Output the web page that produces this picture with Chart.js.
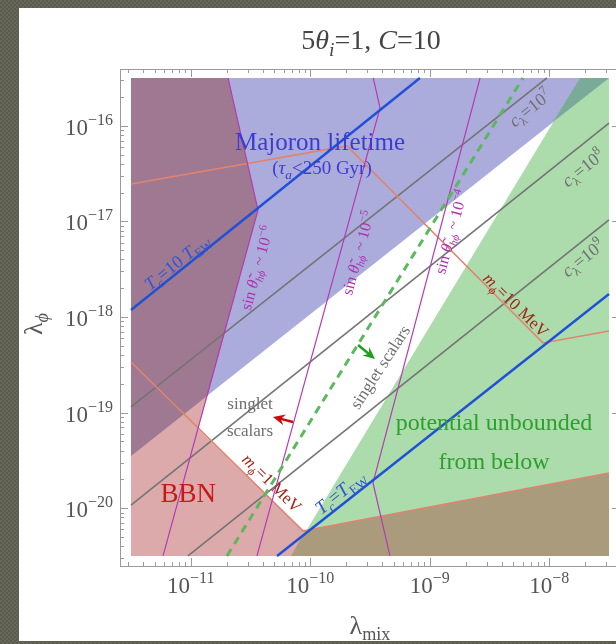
<!DOCTYPE html>
<html>
<head>
<meta charset="utf-8">
<script src="https://cdn.jsdelivr.net/npm/chart.js@4.4.1/dist/chart.umd.min.js"></script>
<style>
html, body { margin:0; padding:0; overflow:hidden; }
body { width:616px; height:644px; position:relative; background-color:#5e5e51;
  background-image:repeating-conic-gradient(#5a5a4d 0 25%, #67675a 0 50%); background-size:4px 4px; }
#panel { position:absolute; left:19px; top:8px; width:597px; height:633px; background:#fff; }
#wrap { position:absolute; left:0; top:0; width:636px; height:644px; }
</style>
</head>
<body>
<div id="panel"></div>
<div id="wrap"><canvas id="chart" width="636" height="644"></canvas></div>
<script>
const FONT = '"Liberation Serif","DejaVu Serif",serif';

// everything below is log10 of the values
// x = log10(lambda_mix), y = log10(lambda_phi)
const xTicks = [-11, -10, -9, -8];
const yTicks = [-20, -19, -18, -17, -16];

// shaded regions
const bbnX = [-11.5, -10.688, -10.437, -10.939, -10.061, -7.5, -7.5, -11.5];
const bbnY = [-15.5, -15.5, -16.881, -19.172, -20.238, -19.632, -20.5, -20.5];
const majX = [-11.5, -7.5, -11.5];
const majY = [-15.5, -15.5, -19.454];
const ubX = [-7.743, -7.5, -7.5, -10.161];
const ubY = [-15.5, -15.5, -20.5, -20.5];
// overlaps of the regions above
const bbnMajX = [-11.5, -10.688, -10.437, -10.859, -11.5];
const bbnMajY = [-15.5, -15.5, -16.881, -18.821, -19.454];
const majUbX = [-7.969, -7.743, -7.5];
const majUbY = [-15.96, -15.5, -15.5];
const bbnUbX = [-10.161, -10.04, -7.5, -7.5];
const bbnUbY = [-20.5, -20.232, -19.632, -20.5];

// curves
const tc10X = [-11.5, -9.082], tc10Y = [-17.927, -15.5];
const tc1X = [-10.278, -7.5], tc1Y = [-20.5, -17.759];
const c7X = [-11.5, -8.019], c7Y = [-18.941, -15.5];
const c8X = [-11.5, -7.5], c8Y = [-19.967, -15.971];
const c9X = [-11.023, -7.5], c9Y = [-20.5, -16.985];
const sin6X = [-10.688, -10.437, -11.232], sin6Y = [-15.5, -16.881, -20.5];
const sin5X = [-9.473, -9.416, -10.446], sin5Y = [-15.5, -15.814, -20.5];
const sin4X = [-8.579, -9.475, -9.333], sin4Y = [-15.5, -19.736, -20.5];
const m10X = [-11.5, -9.692, -8.052, -7.5], m10Y = [-16.609, -16.211, -18.272, -18.146];
const m1X = [-11.5, -10.061, -7.5], m1Y = [-18.471, -20.238, -19.632];
const singX = [-10.697, -8.22], singY = [-20.5, -15.5];

// arrows: [tailX, tailY, tipX, tipY]
const redArrow = [-10.144, -19.098, -10.312, -19.046];
const greenArrow = [-9.6, -18.293, -9.458, -18.439];

const toPts = (xs, ys) => xs.map((v, i) => ({x: 10 ** v, y: 10 ** ys[i]}));

function region(xs, ys, color, order) {
  return {data: toPts(xs, ys), showLine: true, fill: 'shape', backgroundColor: color,
    borderColor: 'rgba(0,0,0,0)', borderWidth: 0, pointRadius: 0, order};
}
function curve(xs, ys, color, width, order, dash) {
  return {data: toPts(xs, ys), showLine: true, fill: false, borderColor: color,
    borderWidth: width, borderDash: dash || [], pointRadius: 0, order};
}

// [text parts, x, y, size, color, angle]
// part flags: i = italic, _ = subscript, ^ = superscript
const labels = [
  [[['Majoron lifetime', '']], -9.918, -16.169, 25, '#3c3cd0', 0],
  [[['(', ''], ['τ', 'i'], ['a', 'i_'], ['<250 Gyr)', '']], -9.902, -16.441, 19, '#3c3cd0', 0],
  [[['BBN', '']], -11.02, -19.84, 27, '#c81818', 0],
  [[['singlet', '']], -10.504, -18.9, 17, '#6e6e6e', 0],
  [[['scalars', '']], -10.504, -19.182, 17, '#6e6e6e', 0],
  [[['potential unbounded', '']], -8.462, -19.098, 24, '#2ea02e', 0],
  [[['from below', '']], -8.462, -19.506, 24, '#2ea02e', 0],
  [[['T', 'i'], ['c', 'i_'], ['=10 ', ''], ['T', 'i'], ['EW', '_']], -11.115, -17.425, 18, '#2f55d4', -38.7],
  [[['T', 'i'], ['c', 'i_'], ['=', ''], ['T', 'i'], ['EW', '_']], -9.751, -19.831, 19, '#2f55d4', -38.7],
  [[['sin ', ''], ['θ̃', 'i'], ['hϕ', 'i_'], [' ~ 10', ''], ['−6', '^']], -10.446, -17.487, 16, '#b030b0', -74.6],
  [[['sin ', ''], ['θ̃', 'i'], ['hϕ', 'i_'], [' ~ 10', ''], ['−5', '^']], -9.6, -17.331, 16, '#b030b0', -74.6],
  [[['sin ', ''], ['θ̃', 'i'], ['hϕ', 'i_'], [' ~ 10', ''], ['−4', '^']], -8.822, -17.111, 16, '#b030b0', -74.6],
  [[['c', 'i'], ['λ', '_'], ['=10', ''], ['7', '^']], -8.161, -15.814, 18, '#707070', -38.7],
  [[['c', 'i'], ['λ', '_'], ['=10', ''], ['8', '^']], -7.718, -16.441, 18, '#707070', -38.7],
  [[['c', 'i'], ['λ', '_'], ['=10', ''], ['9', '^']], -7.718, -17.383, 18, '#707070', -38.7],
  [[['m', 'i'], ['ϕ', 'i_'], ['=10 MeV', '']], -8.278, -17.874, 17, '#a02418', 44.5],
  [[['m', 'i'], ['ϕ', 'i_'], ['=1 MeV', '']], -10.32, -19.736, 17, '#a02418', 44.5],
  [[['singlet scalars', '']], -9.416, -18.523, 17, '#6e6e6e', -57]
];

function rich(ctx, parts, x, y, size, color, angle) {
  ctx.save();
  ctx.translate(x, y);
  ctx.rotate(angle * Math.PI / 180);
  ctx.fillStyle = color;
  ctx.textAlign = 'left';
  ctx.textBaseline = 'alphabetic';
  const spec = parts.map(([t, f]) => {
    const small = f.includes('_') || f.includes('^');
    const fs = small ? size * 0.7 : size;
    const font = (f.includes('i') ? 'italic ' : '') + fs + 'px ' + FONT;
    ctx.font = font;
    const dy = f.includes('_') ? size * 0.25 : f.includes('^') ? -size * 0.42 : 0;
    return {t, font, dy, w: ctx.measureText(t).width};
  });
  const total = spec.reduce((s, p) => s + p.w, 0);
  let cx = -total / 2;
  const base = size * 0.33;
  spec.forEach(p => {
    ctx.font = p.font;
    ctx.fillText(p.t, cx, base + p.dy);
    cx += p.w;
  });
  ctx.restore();
}

function pow10(ctx, e, x, y, align) {
  ctx.save();
  ctx.fillStyle = '#555';
  ctx.textBaseline = 'alphabetic';
  ctx.textAlign = 'left';
  ctx.font = '23px ' + FONT;
  const w1 = ctx.measureText('10').width;
  ctx.font = '16px ' + FONT;
  const sup = '−' + Math.abs(e);
  const w2 = ctx.measureText(sup).width;
  const start = align === 'right' ? x - w1 - w2 : x - (w1 + w2) / 2;
  ctx.font = '23px ' + FONT;
  ctx.fillText('10', start, y);
  ctx.font = '16px ' + FONT;
  ctx.fillText(sup, start + w1, y - 10);
  ctx.restore();
}

function arrow(ctx, xs, ys, a, color) {
  const x0 = xs.getPixelForValue(10 ** a[0]), y0 = ys.getPixelForValue(10 ** a[1]);
  const x1 = xs.getPixelForValue(10 ** a[2]), y1 = ys.getPixelForValue(10 ** a[3]);
  const ang = Math.atan2(y1 - y0, x1 - x0);
  ctx.save();
  ctx.strokeStyle = color; ctx.fillStyle = color; ctx.lineWidth = 2.5;
  ctx.beginPath(); ctx.moveTo(x0, y0);
  ctx.lineTo(x1 - 7 * Math.cos(ang), y1 - 7 * Math.sin(ang)); ctx.stroke();
  ctx.translate(x1, y1); ctx.rotate(ang);
  ctx.beginPath(); ctx.moveTo(0, 0); ctx.lineTo(-12, -5.5); ctx.lineTo(-8, 0); ctx.lineTo(-12, 5.5);
  ctx.closePath(); ctx.fill();
  ctx.restore();
}

const decor = {
  id: 'decor',
  afterDatasetsDraw(chart) {
    const {ctx, chartArea: a, scales: {x, y}} = chart;
    arrow(ctx, x, y, redArrow, '#cc0a0a');
    arrow(ctx, x, y, greenArrow, '#1ea01e');
    labels.forEach(([parts, lx, ly, size, color, ang]) =>
      rich(ctx, parts, x.getPixelForValue(10 ** lx), y.getPixelForValue(10 ** ly), size, color, ang));

    // frame with inward ticks
    ctx.save();
    ctx.strokeStyle = '#9a9a9a';
    ctx.lineWidth = 1;
    ctx.strokeRect(a.left + 0.5, a.top + 0.5, a.right - a.left, a.bottom - a.top);
    ctx.beginPath();
    for (let e = -12; e <= -8; e++) for (let m = 1; m < 10; m++) {
      const v = m * 10 ** e;
      if (v < x.min || v > x.max) continue;
      const px = Math.round(x.getPixelForValue(v)) + 0.5, len = m === 1 ? 8 : 4;
      ctx.moveTo(px, a.bottom); ctx.lineTo(px, a.bottom - len);
      ctx.moveTo(px, a.top); ctx.lineTo(px, a.top + len);
    }
    for (let e = -21; e <= -16; e++) for (let m = 1; m < 10; m++) {
      const v = m * 10 ** e;
      if (v < y.min || v > y.max) continue;
      const py = Math.round(y.getPixelForValue(v)) + 0.5, len = m === 1 ? 8 : 4;
      ctx.moveTo(a.left, py); ctx.lineTo(a.left + len, py);
      ctx.moveTo(a.right, py); ctx.lineTo(a.right - len, py);
    }
    ctx.stroke();
    ctx.restore();

    xTicks.forEach(e => pow10(ctx, e, x.getPixelForValue(10 ** e), a.bottom + 27, 'center'));
    yTicks.forEach(e => pow10(ctx, e, a.left - 7, y.getPixelForValue(10 ** e) + 9, 'right'));

    // title and axis titles
    rich(ctx, [['5', ''], ['θ', 'i'], ['i', 'i_'], ['=1, ', ''], ['C', 'i'], ['=10', '']], 371, 40, 28, '#444', 0);
    rich(ctx, [['λ', ''], ['mix', '_']], 370, 625, 26, '#555', 0);
    rich(ctx, [['λ', ''], ['ϕ', 'i_']], 33, 324, 26, '#555', -90);
  }
};

new Chart(document.getElementById('chart'), {
  type: 'scatter',
  data: {
    datasets: [
      region(bbnX, bbnY, '#dcaaaa', 30),
      region(majX, majY, '#abacdc', 29),
      region(ubX, ubY, '#acdbac', 28),
      region(bbnMajX, bbnMajY, '#9f7891', 27),
      region(majUbX, majUbY, '#79ab98', 26),
      region(bbnUbX, bbnUbY, '#ab9b7d', 25),
      curve(c7X, c7Y, '#747474', 1.6, 12),
      curve(c8X, c8Y, '#747474', 1.6, 12),
      curve(c9X, c9Y, '#747474', 1.6, 12),
      curve(m10X, m10Y, '#e0846f', 1.6, 11),
      curve(m1X, m1Y, '#e0846f', 1.6, 11),
      curve(sin6X, sin6Y, '#b43cb4', 1.2, 10),
      curve(sin5X, sin5Y, '#b43cb4', 1.2, 10),
      curve(sin4X, sin4Y, '#b43cb4', 1.2, 10),
      curve(singX, singY, '#5cb85c', 3, 9, [8, 6]),
      curve(tc10X, tc10Y, '#1f50d8', 2.4, 8),
      curve(tc1X, tc1Y, '#1f50d8', 2.4, 8)
    ]
  },
  options: {
    responsive: false,
    animation: false,
    events: [],
    layout: {padding: {left: 120, right: 16, top: 69, bottom: 78}},
    scales: {
      x: {type: 'logarithmic', display: false, bounds: 'data', min: 10 ** -11.592, max: 10 ** -7.408},
      y: {type: 'logarithmic', display: false, bounds: 'data', min: 10 ** -20.605, max: 10 ** -15.406}
    },
    plugins: {legend: {display: false}, tooltip: {enabled: false}}
  },
  plugins: [decor]
});
</script>
</body>
</html>
